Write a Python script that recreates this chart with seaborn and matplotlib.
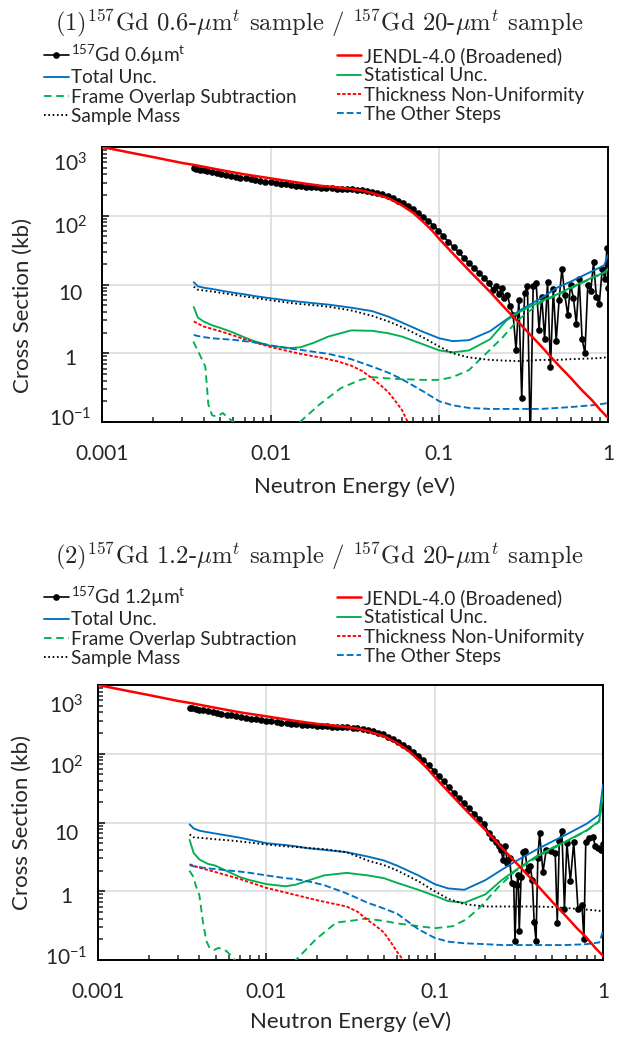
import matplotlib
matplotlib.use("Agg")
import matplotlib.pyplot as plt
import seaborn as sns
from matplotlib.lines import Line2D
from matplotlib.ticker import FixedLocator, NullFormatter, LogLocator
from matplotlib.transforms import ScaledTranslation

# ---------------- data ----------------
titles = [r"(1)$^{157}$Gd 0.6-$\mathit{\mu}$m$^{\mathit{t}}$ sample / $^{157}$Gd 20-$\mathit{\mu}$m$^{\mathit{t}}$ sample",
          r"(2)$^{157}$Gd 1.2-$\mathit{\mu}$m$^{\mathit{t}}$ sample / $^{157}$Gd 20-$\mathit{\mu}$m$^{\mathit{t}}$ sample"]
data_labels = [r"$^{157}$Gd 0.6µm$^{t}$", r"$^{157}$Gd 1.2µm$^{t}$"]
series_labels = ["JENDL-4.0 (Broadened)", "Total Unc.", "Statistical Unc.",
                 "Frame Overlap Subtraction", "Thickness Non-Uniformity",
                 "Sample Mass", "The Other Steps"]

xtick_vals = [0.001, 0.01, 0.1, 1]
xtick_labels = ["0.001", "0.01", "0.1", "1"]
ytick_vals = [0.1, 1, 10, 100, 1000]
ytick_labels = [r"10$^{-1}$", "1", "10", r"10$^{2}$", r"10$^{3}$"]

E_jendl = [0.001, 0.0015, 0.002, 0.0025, 0.003, 0.0035, 0.005, 0.007, 0.01, 0.015, 0.02,
           0.025, 0.03, 0.035, 0.04, 0.05, 0.06, 0.07, 0.08, 0.09, 0.1, 0.12, 0.15, 0.2,
           0.25, 0.3, 0.4, 0.5, 0.6, 0.7, 0.8, 0.9, 1.0]
jendl = [1000, 820, 715, 640, 585, 550, 465, 400, 350, 300, 272, 258, 245, 232, 214, 180,
         142, 110, 82, 62, 46, 28.5, 16, 7.8, 4.3, 2.7, 1.28, 0.7, 0.44, 0.29, 0.21, 0.15, 0.115]

E_band = [0.0035, 0.0036, 0.0038, 0.004, 0.0042, 0.0045, 0.0048, 0.0051, 0.0054, 0.0058,
          0.0062, 0.0066, 0.0071, 0.0076, 0.0081, 0.0087, 0.0093, 0.01, 0.0107, 0.0115,
          0.0123, 0.0132, 0.0141, 0.0151, 0.0162, 0.0174, 0.0186, 0.02, 0.0214, 0.023,
          0.0246, 0.0264, 0.0283, 0.0303, 0.0325, 0.0348, 0.0373, 0.04, 0.0429, 0.046,
          0.0493, 0.0528, 0.0566, 0.0607, 0.065, 0.0697, 0.0747, 0.08, 0.0858, 0.092,
          0.0986, 0.1057, 0.1133, 0.1214, 0.1301, 0.1395, 0.1495, 0.1602, 0.1717, 0.184, 0.1973]
band_1 = [495, 485, 470, 458, 447, 432, 418, 406, 395, 382, 370, 360, 349, 339, 330, 321,
          313, 305, 298, 291, 285, 279, 274, 270, 266, 262, 259, 256, 253, 251, 249, 247,
          245, 242, 239, 235, 230, 223, 214, 204, 192, 179, 165,
          152, 138, 124, 110, 96, 84, 72, 61, 50, 42, 35, 29.5, 24.5, 20.5, 17.5, 14.8, 12.5, 10.5]
band_2 = [470, 462, 450, 440, 430, 417, 405, 394, 384, 372, 361, 352, 342, 333, 325, 317,
          310, 302, 296, 290, 284, 278, 273, 269, 265, 261, 258, 255, 252, 250, 248, 246,
          244, 241, 238, 234, 229, 222, 213, 203, 191, 178, 164,
          150, 136, 121, 107, 93, 81, 69, 57, 47, 39.5, 32.5, 27, 22.5, 19, 16, 13.5, 11.3, 9.5]

E_noise_1 = [0.208, 0.216, 0.225, 0.234, 0.243, 0.253, 0.263, 0.274, 0.285, 0.296, 0.308,
             0.32, 0.333, 0.346, 0.36, 0.375, 0.39, 0.405, 0.421, 0.438, 0.456, 0.474,
             0.493, 0.513, 0.533, 0.555, 0.577, 0.6, 0.624, 0.649, 0.675, 0.702, 0.73,
             0.759, 0.79, 0.821, 0.854, 0.888, 0.924, 0.961, 0.985, 1.0]
noise_1 = [8.4, 9.5, 7.2, 8.8, 6.3, 7.1, 4.8, 3.6, 1.1, 6.0, 0.22, 7.5, 9.4, 0.05, 9.4,
           10.5, 2.2, 6.5, 1.6, 11.0, 0.64, 8.5, 1.5, 6.0, 17.0, 7.0, 3.6, 10.0, 6.3, 2.7,
           12.0, 1.6, 1.0, 10.0, 8.0, 21.0, 6.5, 5.2, 17.0, 12.0, 34.0, 9.0]
E_noise_2 = [0.21, 0.22, 0.23, 0.24, 0.248, 0.255, 0.262, 0.27, 0.279, 0.287, 0.295, 0.3,
             0.307, 0.313, 0.318, 0.326, 0.335, 0.345, 0.355, 0.37, 0.38, 0.39, 0.4, 0.41,
             0.42, 0.44, 0.46, 0.49, 0.52, 0.535, 0.55, 0.57, 0.59, 0.61, 0.64, 0.67, 0.71,
             0.75, 0.77, 0.79, 0.83, 0.87, 0.9, 0.94, 0.97, 1.0]
noise_2 = [7.0, 6.0, 5.2, 4.6, 4.0, 2.85, 4.5, 2.6, 3.0, 1.3, 1.27, 0.19, 1.23, 1.7, 0.26,
           1.6, 3.7, 3.8, 2.0, 2.3, 1.45, 0.36, 0.19, 3.0, 7.0, 1.9, 4.0, 3.8, 3.6, 0.35,
           5.3, 7.4, 0.56, 5.0, 1.4, 5.2, 0.56, 0.64, 0.2, 5.2, 6.0, 6.2, 4.6, 4.2, 4.0, 4.8]

E_unc = [0.0035, 0.0037, 0.004, 0.0045, 0.005, 0.006, 0.007, 0.008, 0.01, 0.013, 0.015,
         0.018, 0.022, 0.03, 0.04, 0.05, 0.06, 0.08, 0.1, 0.12, 0.15, 0.2, 0.25, 0.3, 0.4,
         0.5, 0.6, 0.8, 0.95, 1.0]
total_1 = [10.8, 9.4, 9.0, 8.6, 8.2, 7.6, 7.2, 6.8, 6.3, 5.8, 5.6, 5.35, 5.1, 4.6, 4.1, 3.4,
           2.8, 2.05, 1.65, 1.5, 1.55, 2.1, 3.1, 4.2, 6.3, 9.0, 11.0, 15.5, 19.0, 27.0]
mass_1 = [9.3, 8.4, 8.2, 7.9, 7.6, 7.1, 6.7, 6.4, 5.9, 5.4, 5.2, 5.0, 4.75, 4.2, 3.5, 2.9,
          2.4, 1.7, 1.25, 1.0, 0.87, 0.8, 0.78, 0.77, 0.8, 0.8, 0.82, 0.84, 0.86, 0.92]
stat_1 = [4.7, 3.3, 2.9, 2.55, 2.35, 2.0, 1.7, 1.5, 1.28, 1.19, 1.22, 1.42, 1.75, 2.15,
          2.12, 1.95, 1.75, 1.35, 1.1, 1.03, 1.1, 1.6, 3.0, 4.0, 5.7, 7.2, 9.0, 12.5, 15.0, 17.0]
other_1 = [1.85, 1.78, 1.72, 1.65, 1.62, 1.57, 1.5, 1.44, 1.3, 1.17, 1.12, 1.05, 0.98, 0.82,
           0.64, 0.52, 0.42, 0.28, 0.2, 0.175, 0.16, 0.155, 0.155, 0.155, 0.155, 0.16,
           0.165, 0.175, 0.185, 0.19]
total_2 = [9.4, 8.2, 7.6, 7.2, 6.9, 6.4, 6.0, 5.6, 5.0, 4.7, 4.5, 4.2, 4.0, 3.7, 3.2, 2.8,
           2.35, 1.7, 1.27, 1.1, 1.05, 1.45, 2.05, 2.7, 4.0, 5.3, 6.6, 9.6, 13.0, 35.0]
mass_2 = [6.7, 6.1, 6.0, 5.85, 5.7, 5.5, 5.3, 5.1, 4.8, 4.5, 4.4, 4.25, 4.1, 3.7, 2.8, 2.4,
          2.0, 1.4, 1.0, 0.78, 0.65, 0.6, 0.6, 0.6, 0.6, 0.59, 0.57, 0.54, 0.52, 0.5]
stat_2 = [5.6, 3.6, 2.9, 2.5, 2.35, 1.9, 1.6, 1.45, 1.27, 1.18, 1.25, 1.45, 1.7, 1.85, 1.7,
          1.55, 1.32, 1.05, 0.86, 0.72, 0.68, 0.9, 1.45, 2.0, 3.2, 4.3, 5.3, 7.7, 10.5, 26.0]
other_2 = [2.4, 2.3, 2.25, 2.15, 2.1, 2.0, 1.93, 1.85, 1.7, 1.55, 1.5, 1.38, 1.23, 0.93,
           0.68, 0.56, 0.47, 0.28, 0.21, 0.185, 0.175, 0.17, 0.165, 0.165, 0.165, 0.165,
           0.165, 0.17, 0.18, 0.26]

E_thk_1 = [0.0035, 0.004, 0.005, 0.006, 0.007, 0.008, 0.01, 0.015, 0.02, 0.025, 0.03,
           0.035, 0.04, 0.045, 0.05, 0.055, 0.06, 0.065, 0.07]
thk_1 = [2.9, 2.45, 2.1, 1.82, 1.6, 1.45, 1.23, 0.98, 0.86, 0.76, 0.66, 0.55, 0.43, 0.34,
         0.27, 0.2, 0.15, 0.1, 0.075]
E_thk_2 = [0.0035, 0.004, 0.005, 0.007, 0.01, 0.015, 0.02, 0.03, 0.035, 0.04, 0.045, 0.05,
           0.055, 0.06, 0.065, 0.07]
thk_2 = [2.47, 2.2, 1.9, 1.5, 1.12, 0.88, 0.74, 0.6, 0.5, 0.38, 0.31, 0.25, 0.18, 0.13, 0.1, 0.07]

E_frm_1 = [0.00348, 0.0038, 0.0041, 0.00427, 0.0045, 0.0048, 0.0052, 0.0056, 0.006, 0.007,
           0.009, 0.012, 0.0149, 0.0195, 0.026, 0.034, 0.04, 0.05, 0.06, 0.08, 0.1, 0.12,
           0.15, 0.19, 0.24, 0.29, 0.4, 0.5, 0.6, 0.8, 0.95, 1.0]
frm_1 = [1.48, 0.95, 0.64, 0.18, 0.125, 0.12, 0.135, 0.115, 0.1, 0.07, 0.05, 0.06, 0.1,
         0.18, 0.31, 0.41, 0.45, 0.43, 0.42, 0.41, 0.41, 0.45, 0.57, 1.0, 1.75, 3.0, 5.5,
         7.0, 8.8, 12.3, 14.7, 16.5]
E_frm_2 = [0.00349, 0.0037, 0.0038, 0.004, 0.0042, 0.0044, 0.0046, 0.0049, 0.0052, 0.0058,
           0.0065, 0.008, 0.01, 0.013, 0.015, 0.0197, 0.026, 0.034, 0.039, 0.05, 0.06, 0.1,
           0.128, 0.154, 0.184, 0.24, 0.3, 0.42, 0.6, 0.8, 0.95, 1.0]
frm_2 = [2.0, 1.6, 1.23, 0.88, 0.36, 0.19, 0.15, 0.14, 0.15, 0.135, 0.1, 0.06, 0.05, 0.07,
         0.1, 0.2, 0.35, 0.38, 0.4, 0.37, 0.34, 0.29, 0.31, 0.39, 0.57, 1.16, 1.95, 3.3,
         5.2, 7.6, 10.3, 25.0]

# ---------------- style ----------------
sns.set_style("white")
plt.rcParams['font.family'] = ['Lato', 'DejaVu Sans']
plt.rcParams['mathtext.fontset'] = 'custom'
plt.rcParams['mathtext.rm'] = 'Lato'
plt.rcParams['mathtext.it'] = 'Lato:italic'
plt.rcParams['mathtext.bf'] = 'Lato:bold'
plt.rcParams['mathtext.default'] = 'regular'
plt.rcParams['axes.edgecolor'] = 'black'
plt.rcParams['axes.linewidth'] = 1.3

BLUE, GREEN, RED = "#0070C0", "#00B050", "#FF0000"
LW = 1.35
sty = {
    "total": dict(color=BLUE, lw=LW, ls='-'),
    "stat": dict(color=GREEN, lw=LW, ls='-'),
    "frame": dict(color=GREEN, lw=LW, ls=(0, (4.0, 2.5))),
    "thick": dict(color=RED, lw=LW, ls=(0, (1.8, 1.0))),
    "mass": dict(color='black', lw=LW, ls=(0, (0.9, 1.4))),
    "other": dict(color=BLUE, lw=LW, ls=(0, (3.6, 1.6))),
    "jendl": dict(color=RED, lw=1.8, ls='-'),
}
MS = 4.8

fig = plt.figure(figsize=(6.25, 10.37), dpi=100)
W, H = 625, 1037
ax1 = fig.add_axes([102 / W, 1 - 422 / H, 506 / W, 275 / H])
ax2 = fig.add_axes([98 / W, 1 - 960 / H, 505 / W, 275 / H])


def line(ax, x, y, st, **kw):
    sns.lineplot(x=x, y=y, ax=ax, estimator=None, sort=False, legend=False,
                 color=st["color"], linewidth=st["lw"], linestyle=st["ls"], **kw)


panels = [
    dict(ax=ax1, band=band_1, En=E_noise_1, noise=noise_1, total=total_1, mass=mass_1,
         stat=stat_1, other=other_1, Et=E_thk_1, thk=thk_1, Ef=E_frm_1, frm=frm_1,
         yoff=[4.6, 11.6, 15.3, 19.0, 24.4], ylx=-0.0632, ylab=(-0.136, 0.425),
         xlab=-0.198, title_y=31, leg_y=43),
    dict(ax=ax2, band=band_2, En=E_noise_2, noise=noise_2, total=total_2, mass=mass_2,
         stat=stat_2, other=other_2, Et=E_thk_2, thk=thk_2, Ef=E_frm_2, frm=frm_2,
         yoff=[5.0, 12.0, 17.5, 21.0, 28.0], ylx=-0.0624, ylab=(-0.131, 0.5),
         xlab=-0.187, title_y=564, leg_y=585),
]

for i, p in enumerate(panels):
    ax = p["ax"]
    ax.set_xscale('log')
    ax.set_yscale('log')
    # measured data
    sns.lineplot(x=E_band + p["En"], y=p["band"] + p["noise"], ax=ax, estimator=None,
                 sort=False, legend=False, color='black', linewidth=1.2, marker='o',
                 markersize=MS, markeredgewidth=0, zorder=3)
    line(ax, E_unc, p["total"], sty["total"], zorder=4)
    line(ax, E_unc, p["stat"], sty["stat"], zorder=4)
    line(ax, p["Ef"], p["frm"], sty["frame"], zorder=4)
    line(ax, p["Et"], p["thk"], sty["thick"], zorder=4)
    line(ax, E_unc, p["mass"], sty["mass"], zorder=4)
    line(ax, E_unc, p["other"], sty["other"], zorder=4)
    line(ax, E_jendl, jendl, sty["jendl"], zorder=5)

    ax.set_xlim(0.001, 1)
    ax.set_ylim(0.1, 1000)
    ax.set_axisbelow(True)
    ax.grid(True, which='major', color='#D9D9D9', lw=1.1)
    for s in ax.spines.values():
        s.set_visible(True)
        s.set_color('black')
        s.set_linewidth(1.4)

    ax.xaxis.set_major_locator(FixedLocator(xtick_vals))
    ax.set_xticklabels(xtick_labels)
    ax.xaxis.set_minor_locator(LogLocator(base=10, subs=range(2, 10)))
    ax.xaxis.set_minor_formatter(NullFormatter())
    ax.yaxis.set_major_locator(FixedLocator(ytick_vals))
    ax.yaxis.set_minor_locator(LogLocator(base=10, subs=range(2, 10)))
    ax.yaxis.set_minor_formatter(NullFormatter())
    ax.set_yticklabels([])
    ax.tick_params(axis='both', which='major', direction='in', length=5, width=1.3,
                   bottom=True, left=True, top=False, right=False)
    ax.tick_params(axis='both', which='minor', direction='in', length=3.6, width=1.1,
                   bottom=True, left=True, top=False, right=False)
    ax.tick_params(axis='x', which='major', labelsize=15, pad=16)

    for v, lab, off in zip(ytick_vals, ytick_labels, p["yoff"]):
        tr = ax.get_yaxis_transform() + ScaledTranslation(0, -off / 100, fig.dpi_scale_trans)
        ax.text(p["ylx"], v, lab, transform=tr, ha='center', va='baseline', fontsize=15,
                clip_on=False)

    ax.set_xlabel("Neutron Energy (eV)", fontsize=16)
    ax.set_ylabel("Cross Section (kb)", fontsize=16)
    ax.xaxis.set_label_coords(0.5, p["xlab"])
    ax.yaxis.set_label_coords(*p["ylab"])

    fig.text(319 / W, 1 - p["title_y"] / H, titles[i], ha='center', va='baseline',
             fontsize=17.8, fontfamily='cmr10', math_fontfamily='cm')

    h_data = Line2D([], [], color='black', lw=1.2, marker='o', markersize=MS, markeredgewidth=0)
    hs = {k: Line2D([], [], color=v["color"], lw=v["lw"], ls=v["ls"]) for k, v in sty.items()}
    handles = [h_data, hs["total"], hs["frame"], hs["mass"],
               hs["jendl"], hs["stat"], hs["thick"], hs["other"]]
    labels = [data_labels[i], series_labels[1], series_labels[3], series_labels[5],
              series_labels[0], series_labels[2], series_labels[4], series_labels[6]]
    fig.legend(handles, labels, loc='upper left', ncol=2,
               bbox_to_anchor=(44 / W, 1 - p["leg_y"] / H), frameon=False,
               borderpad=0, borderaxespad=0, handlelength=1.3, handletextpad=0.12,
               labelspacing=0.12, columnspacing=2.1, fontsize=13.7, numpoints=1)

fig.savefig("out.png", dpi=100)
